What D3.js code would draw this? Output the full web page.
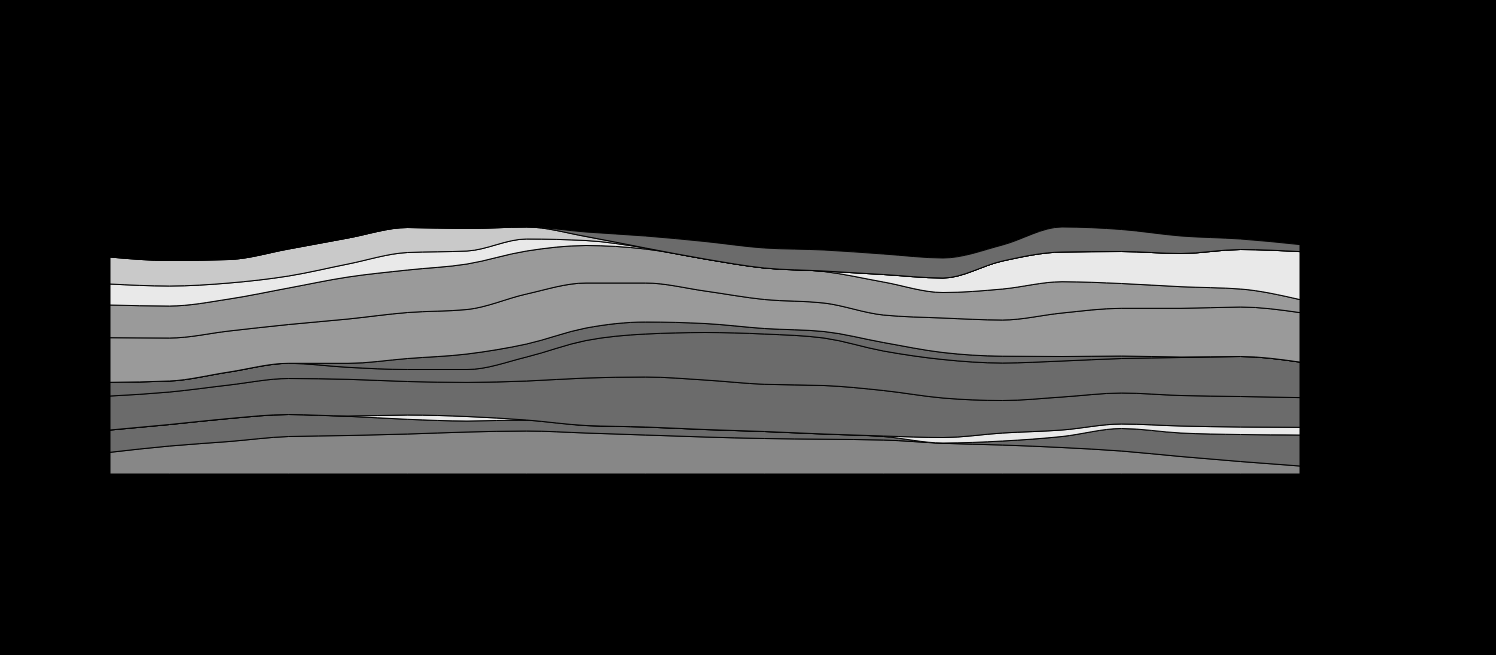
<!DOCTYPE html>
<html>
<head>
<meta charset="utf-8">
<script src="https://cdn.jsdelivr.net/npm/d3@7/dist/d3.min.js"></script>
<style>
  html, body { margin: 0; padding: 0; background: #000; }
  svg { display: block; }
</style>
</head>
<body>
<svg id="chart" width="1496" height="655"></svg>
<script>
// ---- data (bottom layer first) ----
const periods = d3.range(21); // 21 evenly spaced time steps

const seriesA = [21.7, 28, 32.5, 37.5, 38.5, 40, 42, 43, 41, 39, 37, 35.5, 34.8, 34, 30.7, 29, 26.5, 23, 17.5, 12.5, 8];
const seriesB = [22.3, 21.5, 23, 22, 19.2, 14.7, 11, 11, 7.5, 8, 7.5, 7, 5.2, 3.5, 0.3, 4, 11, 22.5, 23.5, 27, 31];
const seriesC = [0, 0, 0, 0, 0.3, 4.3, 4.5, 0, 0, 0, 0, 0, 0, 0.5, 5.5, 8, 6.5, 4.5, 7, 7.5, 7.7];
const seriesD = [34, 32.5, 33.5, 36, 36.7, 33.5, 34.1, 39, 47.5, 50, 49.5, 47.2, 48.5, 45.5, 39.5, 32.5, 33, 31, 30.5, 30.5, 29.7];
const seriesE = [13.7, 11, 13, 15.2, 12, 12, 12.9, 24, 37.5, 43, 47.5, 50.3, 47.5, 39.5, 38.5, 37.5, 36, 34.5, 38, 40, 35.5];
const seriesF = [0, 0, 0, 0, 4, 11, 15.5, 13, 12.5, 12, 9, 5.5, 6.5, 8.5, 7, 6.8, 4.5, 2.5, 0.5, 0, 0];
const seriesG = [44.6, 43, 41, 38.8, 44.3, 46, 44.5, 50, 45, 39, 32.5, 29, 28.5, 27.5, 34.5, 36.2, 43.5, 47.7, 48.7, 49.5, 49.5];
const seriesH = [32.7, 32, 32, 36.5, 42, 42.5, 45.5, 43, 37.5, 34, 32, 31.5, 31.5, 33, 25.5, 31, 31.3, 24.8, 21.6, 18, 13];
const seriesI = [21, 20, 16, 12, 13, 17.5, 13, 12, 5, 1, 0, 0, 0.5, 7.5, 14.5, 28, 29.7, 32, 33.2, 39.5, 48];
const seriesK = [27, 25.5, 23.5, 27, 26, 25, 22.5, 12, 4, 0, 0, 0, 0, 0, 0, 0, 0, 0, 0, 0, 0];
const seriesJ = [0, 0, 0, 0, 0, 0, 0, 0, 4.5, 12, 17.5, 20, 21, 20.5, 20, 16, 25, 22, 17.5, 10.5, 7];

const seriesKeys = ["A", "B", "C", "D", "E", "F", "G", "H", "I", "K", "J"];
const seriesColors = ["#878787", "#6b6b6b", "#e9e9e9", "#6b6b6b", "#6b6b6b", "#6b6b6b",
                      "#9a9a9a", "#9a9a9a", "#e9e9e9", "#c9c9c9", "#6b6b6b"];

// ---- build table for d3.stack ----
const seriesByKey = { A: seriesA, B: seriesB, C: seriesC, D: seriesD, E: seriesE, F: seriesF,
                      G: seriesG, H: seriesH, I: seriesI, K: seriesK, J: seriesJ };
const table = periods.map((p, i) => {
  const row = { t: p };
  seriesKeys.forEach(k => row[k] = seriesByKey[k][i]);
  return row;
});

const stack = d3.stack().keys(seriesKeys).order(d3.stackOrderNone).offset(d3.stackOffsetNone);
const layers = stack(table);

// ---- scales ----
const x = d3.scaleLinear().domain([0, periods.length - 1]).range([110, 1300]);
const y = d3.scaleLinear().domain([0, 250]).range([474, 224]);

const area = d3.area()
  .x(d => x(d.data.t))
  .y0(d => y(d[0]))
  .y1(d => y(d[1]))
  .curve(d3.curveMonotoneX);

const svg = d3.select("#chart");
const color = d3.scaleOrdinal().domain(seriesKeys).range(seriesColors);

svg.append("g")
  .selectAll("path")
  .data(layers)
  .join("path")
  .attr("d", area)
  .attr("fill", d => color(d.key))
  .attr("stroke", "#000")
  .attr("stroke-width", 1);
</script>
</body>
</html>
